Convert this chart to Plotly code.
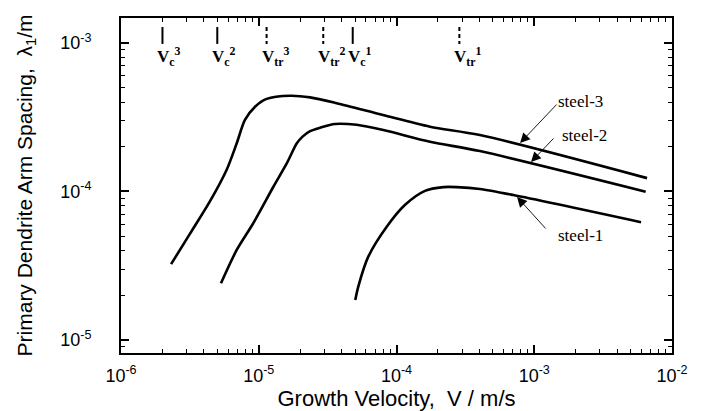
import numpy as np
import plotly.graph_objects as go

# ---- data ----
steel3_v = [2.31e-6, 3.17e-6, 4.43e-6, 5.85e-6, 6.92e-6, 7.94e-6, 9.4e-6, 1.14e-5, 1.69e-5,
            2.36e-5, 3.68e-5, 7.98e-5, 1.75e-4, 4.03e-4, 6.59e-3]
steel3_l = [3.24e-5, 5.2e-5, 8.6e-5, 1.40e-4, 2.11e-4, 3.03e-4, 3.72e-4, 4.20e-4, 4.41e-4,
            4.30e-4, 3.93e-4, 3.27e-4, 2.73e-4, 2.40e-4, 1.23e-4]

steel2_v = [5.32e-6, 6.92e-6, 9.12e-6, 1.28e-5, 1.60e-5, 1.89e-5, 2.09e-5, 2.36e-5, 2.79e-5,
            3.58e-5, 5.14e-5, 8.02e-5, 1.75e-4, 4.03e-4, 6.44e-3]
steel2_l = [2.41e-5, 4.04e-5, 6.11e-5, 1.08e-4, 1.55e-4, 2.11e-4, 2.35e-4, 2.55e-4, 2.69e-4,
            2.85e-4, 2.81e-4, 2.59e-4, 2.16e-4, 1.87e-4, 9.97e-5]

steel1_v = [5.02e-5, 5.28e-5, 6.24e-5, 8.49e-5, 1.15e-4, 1.61e-4, 2.19e-4, 2.74e-4, 4.03e-4,
            7.05e-4, 5.96e-3]
steel1_l = [1.86e-5, 2.29e-5, 3.64e-5, 5.79e-5, 8.11e-5, 1.01e-4, 1.07e-4, 1.07e-4, 1.04e-4,
            9.46e-5, 6.21e-5]

# critical / transition velocities marked at the top
vc_values = [2.0e-6, 5.0e-6, 4.81e-5]
vc_labels = ["V<sub>c</sub><sup>3</sup>", "V<sub>c</sub><sup>2</sup>", "V<sub>c</sub><sup>1</sup>"]
vtr_values = [1.14e-5, 2.94e-5, 2.86e-4]
vtr_labels = ["V<sub>tr</sub><sup>3</sup>", "V<sub>tr</sub><sup>2</sup>", "V<sub>tr</sub><sup>1</sup>"]
marker_top = 1.28e-3
marker_bottom = 9.85e-4
marker_label_y = 7.68e-4

# curve labels
curve_labels = ["steel-3", "steel-2", "steel-1"]
label_v = [2.15e-3, 2.33e-3, 2.18e-3]
label_l = [4.06e-4, 2.37e-4, 5.09e-5]
tip_v = [7.89e-4, 9.47e-4, 7.5e-4]
tip_l = [2.12e-4, 1.58e-4, 9.18e-5]
tail_dx = [38, 24, 30]
tail_dy = [-40, -25, 33]

# axis ticks
x_tick_vals = [1e-6, 1e-5, 1e-4, 1e-3, 1e-2]
x_tick_text = ["10<sup>-6</sup>", "10<sup>-5</sup>", "10<sup>-4</sup>", "10<sup>-3</sup>", "10<sup>-2</sup>"]
y_tick_vals = [1e-5, 1e-4, 1e-3]
y_tick_text = ["10<sup>-5</sup>", "10<sup>-4</sup>", "10<sup>-3</sup>"]

x_title = "Growth Velocity,  V / m/s"
y_title = "Primary Dendrite Arm Spacing,  \u03bb<sub>1</sub>/m"

SANS = "Arial, Liberation Sans, sans-serif"
SERIF = "Times New Roman, Liberation Serif, serif"

fig = go.Figure()
for vx, ly in [(steel3_v, steel3_l), (steel2_v, steel2_l), (steel1_v, steel1_l)]:
    fig.add_trace(go.Scatter(x=vx, y=ly, mode="lines",
                             line=dict(color="black", width=2.6, shape="spline", smoothing=0.8),
                             showlegend=False, hoverinfo="skip"))

for v in vc_values:
    fig.add_trace(go.Scatter(x=[v, v], y=[marker_top, marker_bottom], mode="lines",
                             line=dict(color="black", width=2),
                             showlegend=False, hoverinfo="skip"))
for v in vtr_values:
    fig.add_trace(go.Scatter(x=[v, v], y=[marker_top, marker_bottom], mode="lines",
                             line=dict(color="black", width=2, dash="4px,3px"),
                             showlegend=False, hoverinfo="skip"))

for v, t in list(zip(vc_values, vc_labels)) + list(zip(vtr_values, vtr_labels)):
    fig.add_annotation(x=np.log10(v), y=np.log10(marker_label_y), xref="x", yref="y",
                       text="<b>" + t + "</b>", showarrow=False, xanchor="left", xshift=-7,
                       yanchor="middle", yshift=3, font=dict(family=SERIF, size=17, color="black"))

for i, t in enumerate(curve_labels):
    fig.add_annotation(x=np.log10(tip_v[i]), y=np.log10(tip_l[i]), xref="x", yref="y",
                       text="", showarrow=True, ax=tail_dx[i], ay=tail_dy[i],
                       arrowhead=2, arrowsize=2.2, arrowwidth=0.9, arrowcolor="black",
                       standoff=0, startstandoff=0)
    fig.add_annotation(x=np.log10(label_v[i]), y=np.log10(label_l[i]), xref="x", yref="y",
                       text=t, showarrow=False, xanchor="center", yanchor="middle",
                       font=dict(family=SERIF, size=17, color="black"))

minor_vals = [m * 10.0 ** e for e in range(-7, -1) for m in range(2, 10)]

axis_common = dict(type="log", showline=True, linewidth=2, linecolor="black", mirror="ticks",
                   ticks="inside", ticklen=8, tickwidth=1.5, tickcolor="black",
                   showgrid=False, zeroline=False, automargin=False,
                   minor=dict(ticks="inside", ticklen=4, tickwidth=1, tickcolor="black",
                              showgrid=False, tickvals=minor_vals),
                   tickfont=dict(family=SANS, size=18, color="black"))

fig.update_xaxes(range=[-6, -2], tickmode="array", tickvals=x_tick_vals, ticktext=x_tick_text,
                 title=dict(text=x_title, font=dict(family=SANS, size=22, color="black"), standoff=8),
                 ticklabelstandoff=5, **axis_common)
fig.update_yaxes(range=[-5.0875, -2.832], tickmode="array", tickvals=y_tick_vals, ticktext=y_tick_text,
                 title=dict(text=y_title, font=dict(family=SANS, size=21, color="black"), standoff=22),
                 ticklabelstandoff=24, **axis_common)

fig.update_layout(width=703, height=411, margin=dict(l=121, r=31, t=18, b=58),
                  paper_bgcolor="white", plot_bgcolor="white", showlegend=False)

fig.write_html("out.html", config={"displayModeBar": False},
               post_script="document.body.style.margin='0';document.body.style.padding='0';")
